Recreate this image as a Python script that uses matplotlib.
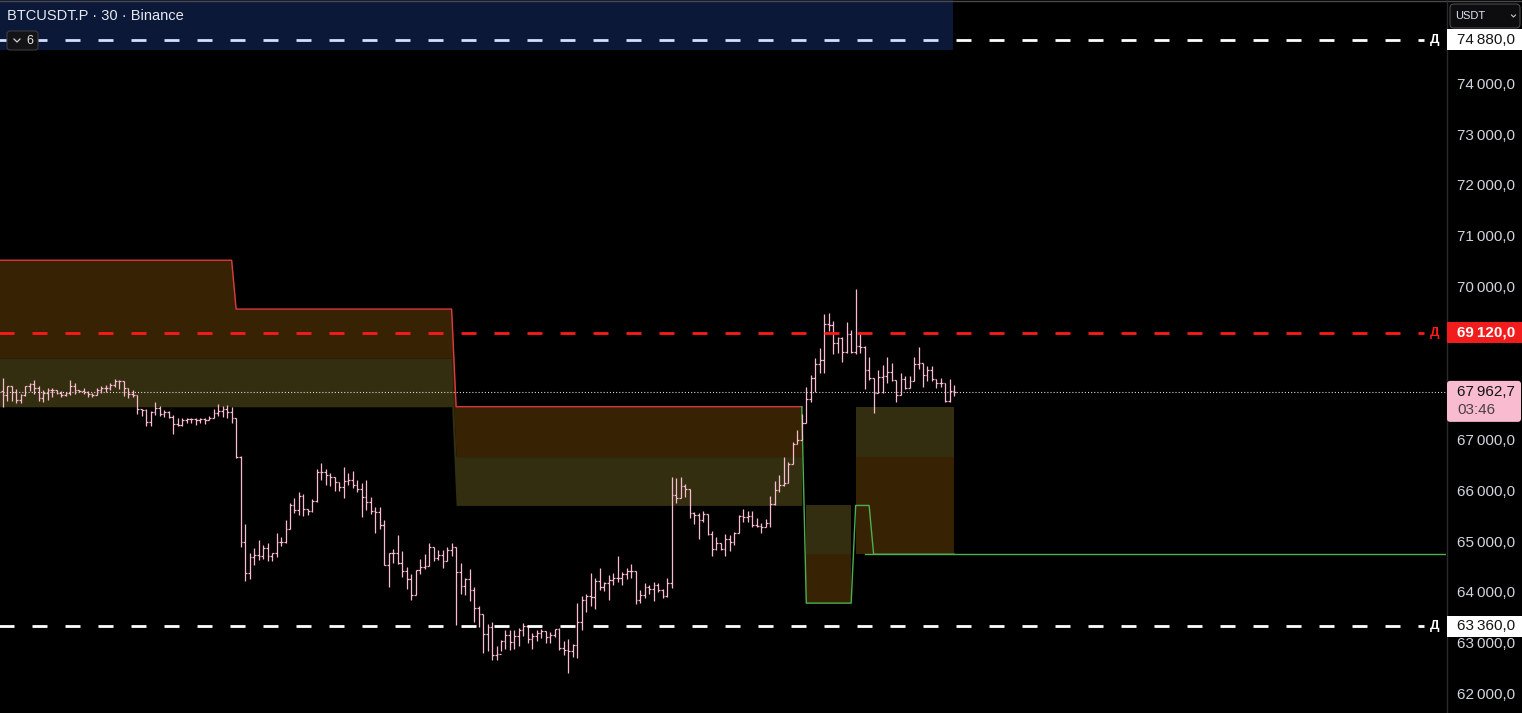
import numpy as np
import matplotlib
matplotlib.use("Agg")
import matplotlib.pyplot as plt
from matplotlib.collections import LineCollection
from matplotlib.patches import Rectangle, FancyBboxPatch
from matplotlib.transforms import blended_transform_factory

plt.rcParams['font.family'] = ['Liberation Sans', 'DejaVu Sans']
plt.rcParams['lines.scale_dashes'] = False

# ---- 30m OHLC bars, BTCUSDT.P ----
opens = [67980, 67910, 68080, 67960, 67810, 67910, 68080, 68120, 68040, 67850,
         67940, 68000, 68000, 67940, 67910, 67940, 68080, 68000, 67980, 67960,
         67920, 67910, 68000, 68040, 68040, 68100, 68180, 68180, 68040, 67920,
         67910, 67630, 67610, 67380, 67570, 67650, 67530, 67570, 67470, 67340,
         67320, 67400, 67420, 67420, 67400, 67420, 67400, 67450, 67550, 67590,
         67630, 67570, 67440,
         66690, 65010, 64400, 64710, 64750, 64730, 64890,
         64730, 64790, 65010, 65010, 65260, 65730, 65650, 65910, 65670, 65630,
         65810, 66380, 66380, 66320, 66280, 66200, 66100, 66220, 66240, 66140,
         66060, 65890, 65790, 65630, 65610, 65340, 64560, 64790, 64790, 64590,
         64440, 64280, 63970, 64460, 64520, 64540, 64910, 64690, 64750, 64630,
         64850, 64910, 64420, 64140, 64280, 64070, 63710,
         63590, 63200, 63340,
         62790, 62810, 63070, 63180, 63050, 63160, 63280, 63360, 63110, 63160,
         63220, 63260, 63140, 63180, 63300, 62930, 62890, 62870, 62990, 63440,
         63870, 63950, 63930, 64240, 64120, 64200, 64260, 64300, 64300, 64380,
         64440, 64440, 63870, 63970, 64120, 64080, 64160, 64070, 63950, 64200,
         65930, 65870, 66120, 66060, 65590, 65550, 65440, 65570, 65160,
         64870, 64990, 64870, 65080, 65010, 65180, 65530, 65500, 65530, 65340, 65320,
         65300, 65380, 65750, 66040, 66140, 66180, 66550, 66930, 67020, 67360,
         67830, 68240, 68510, 68590, 69300, 69280, 68920, 69020, 68750, 69100,
         68750, 68870, 68850, 68400, 68240, 67940, 68260, 68280, 68360, 68200,
         67910, 68220, 68040, 68180, 68510, 68530, 68300, 68400, 68220, 68140,
         68140, 67790, 67980]

highs = [68240, 68080, 68080, 68020, 67920, 68080, 68140, 68200, 68080, 68000,
         68040, 68040, 68000, 67980, 67960, 68200, 68140, 68000, 68040, 67980,
         67940, 68040, 68080, 68100, 68140, 68220, 68200, 68180, 68040, 68000,
         67910, 67630, 67630, 67590, 67770, 67690, 67610, 67590, 67510, 67440,
         67440, 67440, 67440, 67440, 67440, 67450, 67490, 67630, 67730, 67690,
         67710, 67670, 67440,
         66710, 65360, 64790, 64890, 65060, 64950, 64990,
         64790, 65180, 65100, 65440, 65770, 65870, 65990, 65950, 65670, 65850,
         66440, 66570, 66440, 66360, 66280, 66200, 66490, 66360, 66400, 66240,
         66180, 66240, 65890, 65690, 65690, 65440, 64790, 64870, 65140, 64830,
         64520, 64380, 64460, 64670, 64770, 64990, 64910, 64850, 64850, 64910,
         64990, 64910, 64590, 64300, 64480, 64120, 63750,
         63590, 63400, 63440,
         62970, 63090, 63280, 63280, 63280, 63320, 63420, 63380, 63220, 63280,
         63300, 63260, 63240, 63300, 63320, 63070, 63110, 63010, 63810, 63950,
         63990, 64400, 64300, 64500, 64220, 64360, 64400, 64730, 64420, 64500,
         64570, 64440, 64070, 64200, 64160, 64220, 64200, 64080, 64300, 66280,
         66260, 66280, 66160, 66060, 65610, 65590, 65630, 65570, 65220,
         65100, 64990, 65160, 65140, 65200, 65550, 65670, 65630, 65630, 65480, 65380,
         65460, 65910, 66220, 66320, 66690, 66590, 66980, 67220, 67530, 68060,
         68300, 68630, 68830, 69490, 69510, 69360, 69040, 69040, 69340, 69180,
         69980, 69140, 68870, 68650, 68240, 68400, 68490, 68650, 68530, 68200,
         68340, 68280, 68280, 68650, 68850, 68530, 68470, 68470, 68220, 68240,
         68140, 68220, 68100]

lows = [67670, 67790, 67790, 67750, 67750, 67890, 67980, 67920, 67790, 67770,
        67810, 67870, 67920, 67870, 67890, 67910, 67920, 67960, 67920, 67870,
        67870, 67910, 67940, 67960, 68000, 68060, 68020, 67890, 67850, 67870,
        67530, 67490, 67300, 67300, 67510, 67490, 67470, 67440, 67140, 67300,
        67300, 67360, 67360, 67320, 67360, 67340, 67400, 67450, 67490, 67470,
        67450, 67360, 66670,
        64910, 64240, 64280, 64560, 64650, 64670, 64630,
        64630, 64710, 64930, 64990, 65260, 65590, 65550, 65530, 65550, 65610,
        65790, 66240, 66140, 66120, 66020, 66020, 65870, 66140, 66080, 66000,
        65500, 65650, 65570, 65180, 65260, 64560, 64120, 64590, 64570, 64320,
        64080, 63870, 63970, 64380, 64480, 64540, 64630, 64650, 64500, 64630,
        64730, 63380, 63990, 63970, 63850, 63440, 63340,
        62830, 62870, 62690,
        62690, 62870, 62910, 62890, 62910, 62970, 63160, 63030, 62910, 63070,
        63120, 63030, 63030, 63140, 62890, 62790, 62440, 62750, 62730, 63280,
        63630, 63750, 63690, 64070, 64050, 63870, 64160, 64220, 64160, 64280,
        64300, 63790, 63810, 63910, 63990, 63850, 64030, 63910, 63930, 64100,
        65770, 65870, 65890, 65480, 65360, 65080, 65400, 65140, 64730,
        64850, 64850, 64730, 64830, 64950, 65180, 65400, 65400, 65300, 65300, 65180,
        65300, 65300, 65730, 65990, 66120, 66180, 66550, 66930, 67020, 67360,
        67770, 67960, 68340, 68340, 69160, 68710, 68730, 68550, 68730, 68730,
        68710, 68730, 68020, 68200, 67550, 67940, 67940, 68140, 68180, 67770,
        67910, 68020, 68040, 68180, 68410, 68060, 68180, 68180, 68040, 68060,
        67770, 67770, 67890]

closes = [67910, 68080, 67960, 67810, 67910, 68080, 68120, 68040, 67850, 67940,
          68000, 68000, 67940, 67910, 67940, 68080, 68000, 67980, 67960, 67920,
          67910, 68000, 68040, 68040, 68100, 68180, 68180, 68040, 67920, 67910,
          67630, 67610, 67380, 67570, 67650, 67530, 67570, 67470, 67340, 67320,
          67400, 67420, 67420, 67400, 67420, 67400, 67450, 67550, 67590, 67630,
          67570, 67440, 66690,
          65010, 64400, 64710, 64750, 64730, 64890, 64730,
          64790, 65010, 65010, 65260, 65730, 65650, 65910, 65670, 65630, 65810,
          66380, 66380, 66320, 66280, 66200, 66100, 66220, 66240, 66140, 66060,
          65890, 65790, 65630, 65610, 65340, 64560, 64790, 64790, 64590, 64440,
          64280, 63970, 64460, 64520, 64540, 64910, 64690, 64750, 64630, 64850,
          64910, 64420, 64140, 64280, 64070, 63710, 63590,
          63200, 63340, 62790,
          62810, 63070, 63180, 63050, 63160, 63280, 63360, 63110, 63160, 63220,
          63260, 63140, 63180, 63300, 62930, 62890, 62870, 62990, 63440, 63870,
          63950, 63930, 64240, 64120, 64200, 64260, 64300, 64300, 64380, 64440,
          64440, 63870, 63970, 64120, 64080, 64160, 64070, 63950, 64200, 65930,
          65870, 66120, 66060, 65590, 65550, 65440, 65570, 65160, 64870,
          64990, 64870, 65080, 65010, 65180, 65530, 65500, 65530, 65340, 65320, 65300,
          65380, 65750, 66040, 66140, 66180, 66550, 66930, 67020, 67360, 67830,
          68240, 68510, 68590, 69300, 69280, 68920, 69020, 68750, 69100, 68750,
          68870, 68850, 68400, 68240, 67940, 68260, 68280, 68360, 68200, 67910,
          68220, 68040, 68180, 68510, 68530, 68300, 68400, 68220, 68140, 68140,
          67790, 67980, 67962.7]

# ---- zones (bar index ranges and levels) ----
supply_from = [-1, 52, 101]
supply_to = [51, 100, 178]
supply_top = [70550, 69590, 67670]
supply_mid = [68630, 68630, 66690]
supply_bot = [67670, 67670, 65730]

demand_from = [179, 190]
demand_to = [189, 212]
demand_top = [65730, 67670]
demand_mid = [64770, 66690]
demand_bot = [63810, 64770]

green_from = [178, 179, 190, 194]
green_to = [178, 189, 193, 212]
green_level = [67670, 63810, 65730, 64770]
ray_start = 192
ray_level = 64770

# ---- horizontal levels ----
dash_levels = [74880, 69120, 63360]
dash_colors = ['#ffffff', '#ff1a1a', '#ffffff']
dash_box_fc = ['#ffffff', '#f21c1c', '#ffffff']
dash_box_tc = ['#131313', '#ffffff', '#131313']
tick_values = [74000, 73000, 72000, 71000, 70000, 67000, 66000, 65000, 64000, 63000, 62000]
last_price = 67962.7
countdown = '03:46'
title = 'BTCUSDT.P · 30 · Binance'

BAR = '#f8bbd0'
BROWN = '#382204'
OLIVE = '#332e10'
W, H = 1522, 713


def fmt(v, dec=1):
    s = f"{v:,.{dec}f}"
    return s.replace(',', '\u202f').replace('.', ',')


fig = plt.figure(figsize=(W / 100, H / 100), dpi=100, facecolor='black')
ax = fig.add_axes([0, 0, 1446 / W, 1])
ax.set_facecolor('black')
ax.set_xlim(-0.6, 321.5)
ax.set_ylim(61650, 75666)
ax.axis('off')


def build(frm, to, *levels):
    xs = []
    outs = [[] for _ in levels]
    for k in range(len(frm)):
        seg = np.arange(frm[k], to[k] + 1)
        xs.extend(seg)
        for o, lv in zip(outs, levels):
            o.extend([lv[k]] * len(seg))
    return [np.array(xs)] + [np.array(o) for o in outs]


# supply zone
sx, st, sm, sb = build(supply_from, supply_to, supply_top, supply_mid, supply_bot)
ax.fill_between(sx, st, sm, color=BROWN, lw=0, zorder=1)
ax.fill_between(sx, sm, sb, color=OLIVE, lw=0, zorder=1)
ax.plot(sx, st, color='#e03a3e', lw=1.0, zorder=2)

# demand zones
for k in range(len(demand_from)):
    dx = np.arange(demand_from[k], demand_to[k] + 1)
    ax.fill_between(dx, demand_top[k], demand_mid[k], color=OLIVE, lw=0, zorder=1)
    ax.fill_between(dx, demand_mid[k], demand_bot[k], color=BROWN, lw=0, zorder=1)

gx, gy = build(green_from, green_to, green_level)
ax.plot(gx, gy, color='#4caf50', lw=1.0, zorder=2)
ax.plot([ray_start, 400], [ray_level, ray_level], color='#4caf50', lw=1.0, zorder=2)

# last price dotted line
ax.axhline(last_price, color='#eadde3', lw=0.8, dashes=(0.75, 1.5), zorder=2.5)

# OHLC bars
tick = 0.4
segs = []
for i in range(len(closes)):
    segs.append([(i, lows[i]), (i, highs[i])])
    segs.append([(i - tick, opens[i]), (i, opens[i])])
    segs.append([(i, closes[i]), (i + tick, closes[i])])
ax.add_collection(LineCollection(segs, colors=BAR, linewidths=0.9, zorder=3))

# dashed alert levels
bt = blended_transform_factory(ax.transAxes, ax.transData)
for lv, c in zip(dash_levels, dash_colors):
    ax.plot([-2.3 / 1446, 1424 / 1446], [lv, lv], color=c, lw=2.0,
            dashes=(10.8, 12.96), transform=bt, zorder=4, solid_capstyle='butt')
    ax.text(1435 / 1446, lv, 'Д', transform=bt, color=c, fontsize=9.5,
            fontweight='bold', ha='center', va='center', zorder=5)

# overlay in pixel space for chrome
ov = fig.add_axes([0, 0, 1, 1], zorder=10)
ov.set_xlim(0, W)
ov.set_ylim(H, 0)
ov.axis('off')
ov.patch.set_alpha(0)


def py(price):
    return H - ax.transData.transform((0, price))[1]


ov.add_patch(Rectangle((0, 0), 953, 50, fc=(0.22, 0.43, 1.0), alpha=0.22, lw=0))
ov.plot([0, W], [0.5, 0.5], color='#4a4a4a', lw=1)
ov.text(7, 16, title, color='#e6e9f0', fontsize=10.5, va='center', ha='left')
ov.add_patch(FancyBboxPatch((7, 31), 31, 19, boxstyle='round,pad=0,rounding_size=3',
                            fc='#141417', ec='#3c3c40', lw=0.8))
ov.plot([14, 17, 20], [39, 42, 39], color='#d0d0d0', lw=0.9)
ov.text(30, 41, '6', color='#e6e6e6', fontsize=9, va='center', ha='center')

# price scale
ov.plot([1446.5, 1446.5], [0, H], color='#2a2a2e', lw=1)
for v in tick_values:
    ov.text(1457, py(v), fmt(v), color='#d1d4dc', fontsize=11, va='center', ha='left')

for lv, fc, tc in zip(dash_levels, dash_box_fc, dash_box_tc):
    y = py(lv)
    ov.add_patch(Rectangle((1447, y - 10.5), 75, 21, fc=fc, lw=0, zorder=3))
    ov.text(1457, y, fmt(lv), color=tc, fontsize=11, va='center', ha='left', zorder=4,
            fontweight='bold' if tc == '#ffffff' else 'normal')

y = py(last_price)
ov.add_patch(FancyBboxPatch((1447, y - 11), 74, 41, boxstyle='round,pad=0,rounding_size=3',
                            fc='#f8bbd0', lw=0, zorder=3))
ov.text(1457, y, fmt(last_price), color='#131313', fontsize=11, va='center', ha='left', zorder=4)
ov.text(1457, y + 18, countdown, color='#4a3f44', fontsize=11, va='center', ha='left', zorder=4)

# currency button
ov.add_patch(FancyBboxPatch((1450, 4), 70, 24, boxstyle='round,pad=0,rounding_size=4',
                            fc='#0d0d0f', ec='#4a4a50', lw=0.8))
ov.text(1455, 16, 'USDT', color='#dfe3f5', fontsize=8, va='center', ha='left')
ov.plot([1511.5, 1513.5, 1515.5], [15, 17, 15], color='#c8c8c8', lw=0.8)

fig.savefig('out.png', dpi=100, facecolor='black')
